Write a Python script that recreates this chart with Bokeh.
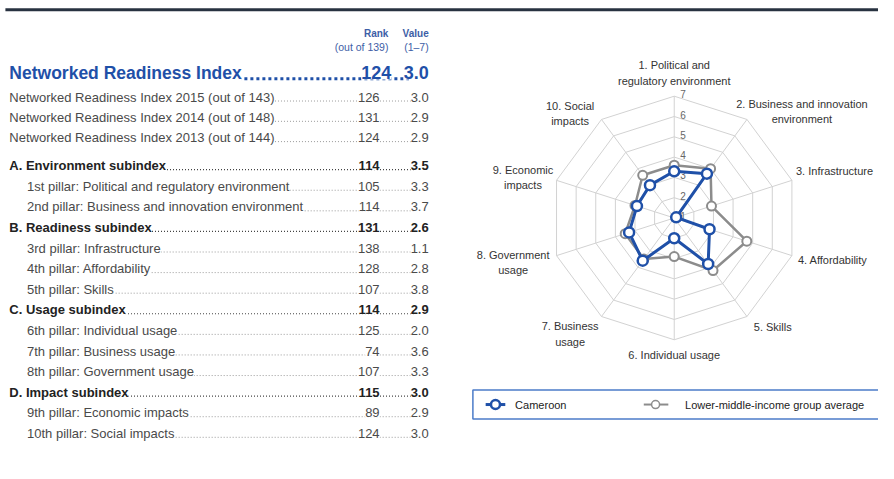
import math
from bokeh.plotting import figure
from bokeh.models import Range1d
from bokeh.core.properties import value
from bokeh.embed import file_html
from bokeh.resources import INLINE

# ---------------- data ----------------
title_label = "Networked Readiness Index"
title_rank = 124
title_value = 3.0

row_labels = [
    "Networked Readiness Index 2015 (out of 143)",
    "Networked Readiness Index 2014 (out of 148)",
    "Networked Readiness Index 2013 (out of 144)",
    "A. Environment subindex",
    "1st pillar: Political and regulatory environment",
    "2nd pillar: Business and innovation environment",
    "B. Readiness subindex",
    "3rd pillar: Infrastructure",
    "4th pillar: Affordability",
    "5th pillar: Skills",
    "C. Usage subindex",
    "6th pillar: Individual usage",
    "7th pillar: Business usage",
    "8th pillar: Government usage",
    "D. Impact subindex",
    "9th pillar: Economic impacts",
    "10th pillar: Social impacts",
]
row_ranks = [126, 131, 124, 114, 105, 114, 131, 138, 128, 107, 114, 125, 74, 107, 115, 89, 124]
row_values = [3.0, 2.9, 2.9, 3.5, 3.3, 3.7, 2.6, 1.1, 2.8, 3.8, 2.9, 2.0, 3.6, 3.3, 3.0, 2.9, 3.0]
row_kinds = ["hist", "hist", "hist", "sub", "pillar", "pillar", "sub", "pillar", "pillar", "pillar",
             "sub", "pillar", "pillar", "pillar", "sub", "pillar", "pillar"]

radar_categories = [
    "1. Political and\nregulatory environment",
    "2. Business and innovation\nenvironment",
    "3. Infrastructure",
    "4. Affordability",
    "5. Skills",
    "6. Individual usage",
    "7. Business\nusage",
    "8. Government\nusage",
    "9. Economic\nimpacts",
    "10. Social\nimpacts",
]
cameroon = [3.3, 3.7, 1.1, 2.8, 3.8, 2.0, 3.6, 3.3, 2.9, 3.0]
lower_middle = [3.6, 4.0, 2.9, 4.7, 4.2, 2.9, 3.5, 3.5, 3.0, 3.6]
ring_ticks = [1, 2, 3, 4, 5, 6, 7]
series_names = ["Cameroon", "Lower-middle-income group average"]

# ---------------- style / layout ----------------
BLUE = "#1f50a8"
GREY = "#8c8c8c"
HEAD = "#3d5ea6"
FONT = value("Liberation Sans")

p = figure(width=878, height=463, x_range=Range1d(0, 894), y_range=Range1d(479, 0),
           output_backend="svg", toolbar_location=None, x_axis_type=None, y_axis_type=None,
           min_border=0)
p.outline_line_color = None
p.background_fill_color = "white"
p.border_fill_color = "white"

# top rule
p.segment(x0=[5], y0=[9.5], x1=[894], y1=[9.5], line_color="#283240", line_width=3)

# ---------------- table ----------------
RANK_R = 386
VAL_R = 436

p.text(x=[395], y=[34], text=["Rank"], text_align="right", text_baseline="middle",
       text_font=FONT, text_font_style="bold", text_font_size="10px", text_color=HEAD)
p.text(x=[395], y=[48], text=["(out of 139)"], text_align="right", text_baseline="middle",
       text_font=FONT, text_font_size="10.5px", text_color=HEAD)
p.text(x=[VAL_R], y=[34], text=["Value"], text_align="right", text_baseline="middle",
       text_font=FONT, text_font_style="bold", text_font_size="10px", text_color=HEAD)
p.text(x=[VAL_R], y=[48], text=["(1\u20137)"], text_align="right", text_baseline="middle",
       text_font=FONT, text_font_size="10.5px", text_color=HEAD)

# title row
TY = 75
p.segment(x0=[230], y0=[TY + 6], x1=[VAL_R - 20], y1=[TY + 6], line_color=BLUE,
          line_width=3, line_dash="3 3")
p.text(x=[9], y=[TY], text=[title_label], text_align="left", text_baseline="middle",
       text_font=FONT, text_font_style="bold", text_font_size="17.5px", text_color=BLUE,
       background_fill_color="white")
p.text(x=[398], y=[TY], text=[str(title_rank)], text_align="right", text_baseline="middle",
       text_font=FONT, text_font_style="bold", text_font_size="18px", text_color=BLUE,
       background_fill_color="white")
p.text(x=[VAL_R], y=[TY], text=[f"{title_value:.1f}"], text_align="right", text_baseline="middle",
       text_font=FONT, text_font_style="bold", text_font_size="18px", text_color=BLUE,
       background_fill_color="white")

# rows
row_y = []
y = 100.0
for i, k in enumerate(row_kinds):
    if i > 0:
        if row_kinds[i - 1] == "hist" and k != "hist":
            y += 29.0
        elif k == "hist":
            y += 21.0
        else:
            y += 21.3
    row_y.append(y)

for lab, rk, val, k, yy in zip(row_labels, row_ranks, row_values, row_kinds, row_y):
    bold = (k == "sub")
    col = "#222222" if bold else "#4a4a4a"
    x0 = 27 if k == "pillar" else 9
    style = "bold" if bold else "normal"
    p.segment(x0=[x0 + 20], y0=[yy + 4], x1=[VAL_R - 15], y1=[yy + 4],
              line_color="#444444" if bold else "#9a9a9a", line_width=1.2 if bold else 1,
              line_dash="1 2")
    p.text(x=[x0], y=[yy], text=[lab], text_align="left", text_baseline="middle",
           text_font=FONT, text_font_style=style, text_font_size="13px", text_color=col,
           background_fill_color="white")
    p.text(x=[RANK_R], y=[yy], text=[str(rk)], text_align="right", text_baseline="middle",
           text_font=FONT, text_font_style=style, text_font_size="13px", text_color=col,
           background_fill_color="white")
    p.text(x=[VAL_R], y=[yy], text=[f"{val:.1f}"], text_align="right", text_baseline="middle",
           text_font=FONT, text_font_style=style, text_font_size="13px", text_color=col,
           background_fill_color="white")

# ---------------- radar ----------------
CX, CY = 686.0, 225.0
UNIT = 21.0          # pixels per score point
VMIN, VMAX = 1, 7
n = len(radar_categories)
angles = [2 * math.pi * i / n for i in range(n)]


def polar(vals):
    xs = [CX + (v - VMIN) * UNIT * math.sin(a) for v, a in zip(vals, angles)]
    ys = [CY - (v - VMIN) * UNIT * math.cos(a) for v, a in zip(vals, angles)]
    return xs, ys


# rings
for t in ring_ticks[1:]:
    xs, ys = polar([t] * n)
    p.line(xs + xs[:1], ys + ys[:1], line_color="#d2d2d2", line_width=1)
# spokes
ox, oy = polar([VMAX] * n)
p.segment(x0=[CX] * n, y0=[CY] * n, x1=ox, y1=oy, line_color="#d2d2d2", line_width=1)
# ring labels
p.text(x=[CX + 9] * len(ring_ticks), y=[CY - (t - VMIN) * UNIT - 2 for t in ring_ticks],
       text=[str(t) for t in ring_ticks], text_align="center", text_baseline="middle",
       text_font=FONT, text_font_size="10px", text_color="#666666")

# series
gx, gy = polar(lower_middle)
p.line(gx + gx[:1], gy + gy[:1], line_color=GREY, line_width=2.5)
p.scatter(gx, gy, size=9, marker="circle", fill_color="white", line_color=GREY, line_width=2)
bx, by = polar(cameroon)
p.line(bx + bx[:1], by + by[:1], line_color=BLUE, line_width=3)
p.scatter(bx, by, size=10, marker="circle", fill_color="white", line_color=BLUE, line_width=2.5)

# category labels (layout anchors)
label_pos = [(686, 75, "center"), (816, 115, "center"), (810, 176, "left"), (812, 268, "left"),
             (767, 338, "left"), (686, 367, "center"), (580, 345, "center"), (522, 271, "center"),
             (532, 183, "center"), (580, 117, "center")]
for lab, (lx, ly, al) in zip(radar_categories, label_pos):
    p.text(x=[lx], y=[ly], text=[lab], text_align=al, text_baseline="middle",
           text_font=FONT, text_font_size="11px", text_color="#333333",
           text_line_height=1.3)

# ---------------- legend ----------------
p.quad(left=[481], right=[897], top=[403], bottom=[433], fill_color="white",
       line_color="#4c7cc9", line_width=1.5)
LY = 418
p.segment(x0=[494], y0=[LY], x1=[514], y1=[LY], line_color=BLUE, line_width=3)
p.scatter([504], [LY], size=9, marker="circle", fill_color="white", line_color=BLUE, line_width=2.5)
p.text(x=[524], y=[LY], text=[series_names[0]], text_align="left", text_baseline="middle",
       text_font=FONT, text_font_size="11px", text_color="#222222")
p.segment(x0=[655], y0=[LY], x1=[680], y1=[LY], line_color=GREY, line_width=2)
p.scatter([667], [LY], size=8, marker="circle", fill_color="white", line_color=GREY, line_width=1.5)
p.text(x=[697], y=[LY], text=[series_names[1]], text_align="left", text_baseline="middle",
       text_font=FONT, text_font_size="11px", text_color="#222222")

open("out.html", "w").write(file_html(p, INLINE))
